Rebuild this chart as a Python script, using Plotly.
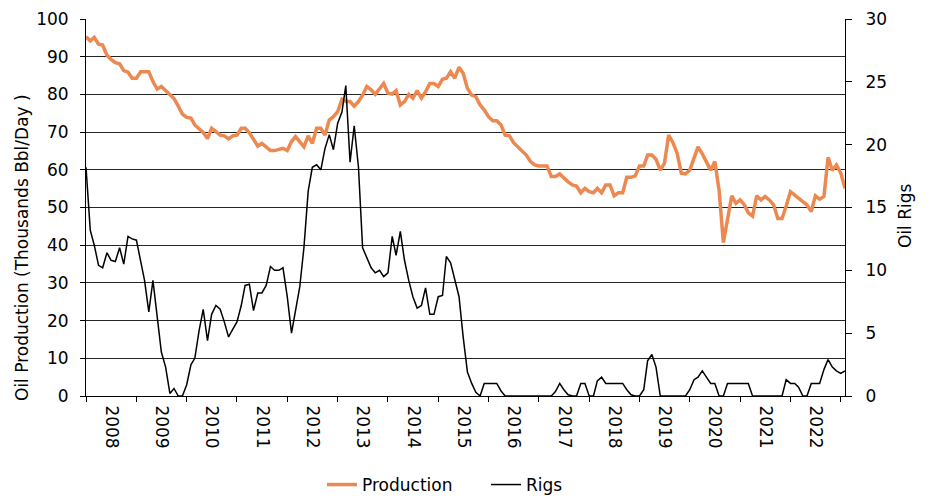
import pandas as pd
import plotly.graph_objects as go

# Monthly categories: Jan 2008 .. Feb 2023
months = pd.date_range("2008-01-01", periods=182, freq="MS")

production = [
    95.3, 94.2, 95.1, 93.3, 93.1, 90.4, 89.3, 88.4, 88.1, 86.3, 85.9, 84.3,
    84.3, 86.0, 86.0, 86.0, 83.4, 81.4, 82.1, 81.0, 80.1, 78.9, 76.9, 74.8,
    73.9, 73.7, 71.9, 71.0, 69.9, 68.3, 71.0, 70.1, 69.2, 69.0, 68.2, 69.0,
    69.2, 71.0, 71.0, 69.8, 68.1, 66.3, 67.0, 66.0, 65.1, 65.1,
    65.3, 65.7, 65.1, 67.5, 68.8, 67.5, 66.1, 69.0, 67.0, 71.0,
    71.0, 69.2, 73.2, 74.1, 75.4, 78.7, 78.1, 78.1, 76.9, 78.1,
    79.8, 82.1, 81.2, 80.0, 81.6, 82.9, 80.3, 80.1, 81.0, 77.2,
    78.1, 80.0, 79.0, 81.0, 79.0, 80.7, 82.9, 82.9, 82.1, 84.0,
    84.3, 86.0, 84.3, 87.2, 85.6, 81.6, 79.8,
    79.4, 77.2, 75.9, 74.1, 73.0, 73.0, 71.9, 69.2, 69.0, 67.2,
    66.1, 65.1, 63.9, 62.2, 61.3, 61.0, 61.0, 61.0, 58.2, 58.2,
    58.9, 57.7, 56.8, 56.0, 55.7, 53.9, 55.1, 54.2, 53.9, 55.1,
    53.9, 56.0, 56.0, 53.1, 53.9, 53.9, 58.0, 58.0,
    58.4, 61.0, 61.0, 63.9, 63.9, 62.8, 59.9, 61.7, 69.2, 67.2,
    64.4, 59.1, 58.9, 59.9, 62.8, 66.1, 64.2, 62.2, 59.9, 62.2,
    54.6, 40.7, 46.7, 53.1, 51.1, 52.0, 50.7, 48.6, 47.7, 53.1,
    52.0, 52.9, 52.0, 50.7, 47.1, 47.1, 50.4, 54.2, 53.3, 52.4,
    51.5, 50.7, 48.9, 53.1, 52.2, 52.9, 63.3, 59.8, 61.3, 59.2,
    55.1,
]

rigs = [
    18.2, 13.2, 12.0, 10.4, 10.2, 11.4, 10.8, 10.7, 11.8, 10.5,
    12.7, 12.5, 12.4, 10.8, 9.2, 6.7, 9.2, 6.3, 3.5, 2.3,
    0.2, 0.6, 0.0, 0.0, 0.9, 2.5, 3.0, 5.2, 6.9, 4.4,
    6.5, 7.2, 6.9, 5.9, 4.7, 5.3, 5.9, 7.2, 8.8, 8.9,
    6.8, 8.2, 8.2, 8.8, 10.3, 10.0,
    10.0, 10.2, 7.9, 5.0, 6.8, 8.7, 11.8, 16.3, 18.2, 18.4,
    18.0, 19.7, 20.8, 19.6, 21.7, 22.6, 24.7, 18.6, 21.5, 18.2,
    11.8, 11.0, 10.2, 9.8, 10.0, 9.5, 9.8, 12.7, 11.2, 13.1,
    10.8, 9.2, 7.9, 7.0, 7.2, 8.6, 6.5, 6.5, 7.9, 8.0,
    11.1, 10.6, 9.3, 7.9, 4.7, 1.9, 1.0, 0.3,
    0.0, 1.0, 1.0, 1.0, 1.0, 0.4,
    0.0, 0.0, 0.0, 0.0, 0.0, 0.0, 0.0, 0.0, 0.0, 0.0, 0.0, 0.0,
    0.35, 1.0, 0.5, 0.1, 0.0, 0.0, 1.0, 1.0, 0.0, 0.0,
    1.2, 1.5, 1.0, 1.0, 1.0, 1.0, 1.0, 0.5, 0.1, 0.0,
    0.0, 0.5, 2.8, 3.3, 2.3, 0.0, 0.0, 0.0, 0.0, 0.0,
    0.0, 0.0, 0.5, 1.3, 1.5, 2.0, 1.5, 1.0, 1.0, 0.0,
    0.0, 1.0, 1.0, 1.0, 1.0, 1.0, 1.0, 0.0, 0.0, 0.0,
    0.0, 0.0, 0.0, 0.0, 0.0, 1.3, 1.0, 1.0, 0.7, 0.0,
    0.0, 1.0, 1.0, 1.0, 2.1, 2.9, 2.3, 2.0, 1.8, 2.0,
]

left_ticks = list(range(0, 101, 10))
right_ticks = list(range(0, 31, 5))

FONT = "DejaVu Sans"
FS = 17

# the page body adds an 8px offset, so the figure is 922x488 and sits at (8, 8)
W, H = 922, 488

fig = go.Figure()
fig.add_trace(go.Scatter(x=months, y=production, name="Production", mode="lines",
                         line=dict(color="#EB8950", width=3.5), yaxis="y"))
fig.add_trace(go.Scatter(x=months, y=rigs, name="Rigs", mode="lines",
                         line=dict(color="#000000", width=1.5), yaxis="y2"))

fig.update_layout(
    width=W, height=H,
    margin=dict(l=78, r=85, t=11, b=100, autoexpand=False),
    paper_bgcolor="white", plot_bgcolor="white",
    font=dict(family=FONT, size=FS, color="#000000"),
    showlegend=True,
    legend=dict(orientation="h", xref="container", yref="container",
                x=(322 - 8) / W, y=1 - 477 / H, xanchor="left", yanchor="middle",
                font=dict(family=FONT, size=FS), itemwidth=30, tracegroupgap=0,
                entrywidth=119, entrywidthmode="pixels",
                bgcolor="rgba(0,0,0,0)"),
    xaxis=dict(
        type="date", automargin=False,
        range=[months[0], months[-1]],
        tick0="2008-01-01", dtick="M12",
        ticklabelmode="period", tickformat="%Y", tickangle=90,
        ticks="outside", ticklen=5, tickcolor="#000", tickwidth=1,
        showline=True, linecolor="#000", linewidth=1,
        showgrid=False, zeroline=False,
        tickfont=dict(family=FONT, size=FS),
    ),
    yaxis=dict(
        automargin=False,
        range=[0, 100], tickvals=left_ticks,
        ticks="outside", ticklen=5, tickcolor="#000",
        showline=True, linecolor="#000", linewidth=1,
        showgrid=True, gridcolor="#262626", gridwidth=1,
        zeroline=False, ticklabelstandoff=8,
        tickfont=dict(family=FONT, size=FS),
    ),
    yaxis2=dict(
        automargin=False,
        range=[0, 30], tickvals=right_ticks,
        overlaying="y", side="right",
        ticks="outside", ticklen=6, tickcolor="#000",
        showline=True, linecolor="#000", linewidth=1,
        showgrid=False, zeroline=False, ticklabelstandoff=10,
        tickfont=dict(family=FONT, size=FS),
    ),
    annotations=[
        dict(text="Oil Production (Thousands Bbl/Day )", textangle=-90,
             xref="paper", yref="paper", x=(22 - 86) / 759, y=(396 - 248) / 377,
             xanchor="center", yanchor="middle", showarrow=False,
             font=dict(family=FONT, size=FS)),
        dict(text="Oil Rigs", textangle=-90,
             xref="paper", yref="paper", x=(905 - 86) / 759, y=(396 - 216) / 377,
             xanchor="center", yanchor="middle", showarrow=False,
             font=dict(family=FONT, size=FS)),
    ],
)

fig.write_html("out.html")
